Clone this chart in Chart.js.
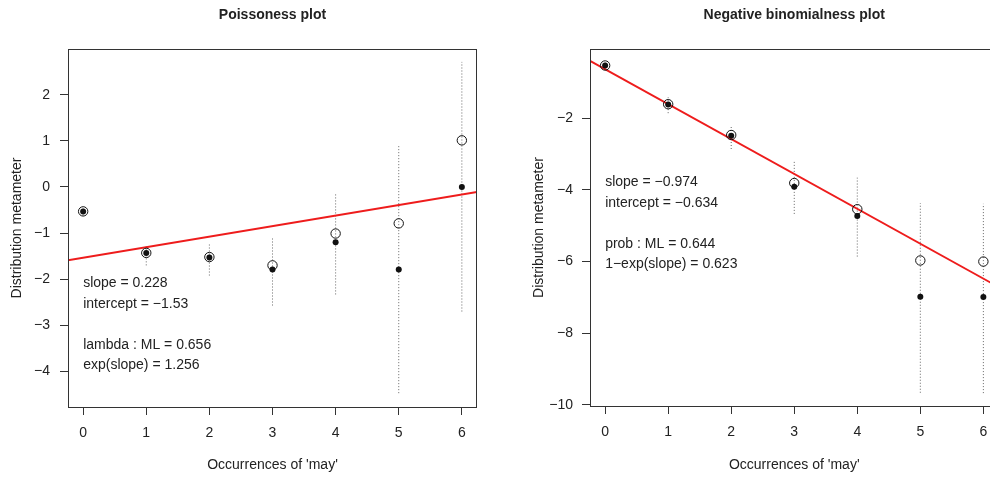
<!DOCTYPE html>
<html>
<head>
<meta charset="utf-8">
<title>Poissoness and negative binomialness plots</title>
<script src="https://cdn.jsdelivr.net/npm/chart.js@4.4.1/dist/chart.umd.min.js"></script>
<style>
    html, body { margin: 0; padding: 0; background: #fff; overflow: hidden; }
    body { width: 990px; height: 477px; position: relative; }
    canvas { position: absolute; top: 0; }
    #poisChart { left: 0; }
    #nbChart { left: 495px; }
</style>
</head>
<body>
<canvas id="poisChart" width="495" height="477"></canvas>
<canvas id="nbChart" width="520" height="477"></canvas>
<script>

// ============================
// DATA
// ============================

const counts = [0, 1, 2, 3, 4, 5, 6];
const xTicks = [0, 1, 2, 3, 4, 5, 6];

// Poissoness plot
const poisTicks = [-4, -3, -2, -1, 0, 1, 2];
const poisMetameter = [-0.53, -1.43, -1.52, -1.70, -1.01, -0.79, 1.01];
const poisCentered = [-0.53, -1.43, -1.53, -1.79, -1.20, -1.79, 0.00];
const poisLow = [-0.62, -1.70, -1.92, -2.57, -2.33, -4.47, -2.70];
const poisHigh = [-0.44, -1.26, -1.23, -1.08, -0.13, 0.91, 2.71];
const poisFitX = [-0.24, 6.24];
const poisFitY = [-1.59, -0.11];
const poisNotes = ['slope = 0.228', 'intercept = \u22121.53', '', 'lambda : ML = 0.656', 'exp(slope) = 1.256'];

// Negative binomialness plot
const nbTicks = [-10, -8, -6, -4, -2];
const nbMetameter = [-0.53, -1.61, -2.47, -3.81, -4.54, -5.97, -6.00];
const nbCentered = [-0.53, -1.62, -2.49, -3.91, -4.73, -6.98, -6.99];
const nbLow = [-0.62, -1.86, -2.86, -4.67, -5.86, -9.66, -9.67];
const nbHigh = [-0.44, -1.42, -2.21, -3.18, -3.66, -4.37, -4.39];
const nbFitX = [-0.24, 6.24];
const nbFitY = [-0.40, -6.71];
const nbNotes = ['slope = \u22120.974', 'intercept = \u22120.634', '', 'prob : ML = 0.644', '1\u2212exp(slope) = 0.623'];


const FONT = '"Liberation Sans", Arial, Helvetica, sans-serif';
const INK = '#222';
const FRAME = '#333';

const minus = v => String(v).replace('-', '\u2212');


// box, title and the text notes
const framePlugin = {
    id: 'frame',
    afterDatasetsDraw(chart, args, opts) {
        const { ctx, chartArea: a, scales: { x, y } } = chart;
        ctx.save();

        ctx.strokeStyle = FRAME;
        ctx.lineWidth = 1;
        ctx.strokeRect(a.left + 0.5, a.top + 0.5, a.right - a.left - 1, a.bottom - a.top);

        ctx.fillStyle = INK;
        ctx.textBaseline = 'middle';
        ctx.textAlign = 'center';
        ctx.font = 'bold 14px ' + FONT;
        ctx.fillText(opts.title, (a.left + a.right) / 2, opts.titleY);

        ctx.textAlign = 'left';
        ctx.font = '14px ' + FONT;
        const px = x.getPixelForValue(opts.noteX);
        let py = y.getPixelForValue(opts.noteY);
        opts.lines.forEach(line => {
            ctx.fillText(line, px, py);
            py += opts.lineGap;
        });

        ctx.restore();
    }
};


function makePlot(id, cfg) {

    const ctx = document.getElementById(id).getContext('2d');

    const bars = counts.flatMap((x, i) => [
        { x: x, y: cfg.low[i] },
        { x: x, y: cfg.high[i] },
        { x: x, y: null }
    ]);

    return new Chart(ctx, {

        type: 'scatter',

        data: {
            datasets: [
                {
                    data: counts.map((x, i) => ({ x: x, y: cfg.centered[i] })),
                    pointRadius: 3,
                    pointBackgroundColor: '#111',
                    pointBorderWidth: 0
                },
                {
                    data: counts.map((x, i) => ({ x: x, y: cfg.meta[i] })),
                    pointRadius: 4.7,
                    pointBackgroundColor: 'rgba(0,0,0,0)',
                    pointBorderColor: '#111',
                    pointBorderWidth: 1
                },
                {
                    data: cfg.fitX.map((x, i) => ({ x: x, y: cfg.fitY[i] })),
                    showLine: true,
                    borderColor: '#ee1c1c',
                    borderWidth: 2,
                    pointRadius: 0
                },
                {
                    data: bars,
                    showLine: true,
                    spanGaps: false,
                    borderColor: '#666',
                    borderWidth: 1,
                    borderDash: [1, 2],
                    pointRadius: 0
                }
            ]
        },

        options: {
            responsive: false,
            animation: false,
            devicePixelRatio: 1,
            events: [],
            layout: {
                padding: { top: cfg.top, right: cfg.right, left: 0, bottom: 0 }
            },
            scales: {
                x: {
                    type: 'linear',
                    min: -0.24,
                    max: 6.24,
                    afterBuildTicks: s => { s.ticks = xTicks.map(v => ({ value: v })); },
                    afterFit: s => { s.height = cfg.xHeight; },
                    border: { display: false },
                    grid: { drawOnChartArea: false, tickLength: 8, tickColor: FRAME },
                    ticks: {
                        color: INK,
                        padding: 10,
                        maxRotation: 0,
                        autoSkip: false,
                        font: { size: 14, family: FONT },
                        callback: v => minus(v)
                    },
                    title: {
                        display: true,
                        text: "Occurrences of 'may'",
                        color: INK,
                        font: { size: 14, family: FONT },
                        padding: { top: 0, bottom: 3 }
                    }
                },
                y: {
                    type: 'linear',
                    min: cfg.yMin,
                    max: cfg.yMax,
                    afterBuildTicks: s => { s.ticks = cfg.ticks.map(v => ({ value: v })); },
                    afterFit: s => { s.width = cfg.yWidth; },
                    border: { display: false },
                    grid: { drawOnChartArea: false, tickLength: 8, tickColor: FRAME },
                    ticks: {
                        color: INK,
                        padding: cfg.tickPad,
                        autoSkip: false,
                        font: { size: 14, family: FONT },
                        callback: v => minus(v)
                    },
                    title: {
                        display: true,
                        text: 'Distribution metameter',
                        color: INK,
                        font: { size: 14, family: FONT },
                        padding: { top: cfg.titlePad, bottom: 0 }
                    }
                }
            },
            plugins: {
                legend: { display: false },
                tooltip: { enabled: false },
                frame: {
                    title: cfg.title,
                    titleY: 15,
                    noteX: 0,
                    noteY: cfg.noteY,
                    lineGap: 20.5,
                    lines: cfg.notes
                }
            }
        },

        plugins: [framePlugin]
    });
}


// ============================
// CHART 1: POISSONESS
// ============================

makePlot('poisChart', {
    title: 'Poissoness plot',
    meta: poisMetameter,
    centered: poisCentered,
    low: poisLow,
    high: poisHigh,
    fitX: poisFitX,
    fitY: poisFitY,
    ticks: poisTicks,
    notes: poisNotes,
    noteY: -2.095,
    yMin: -4.77,
    yMax: 2.99,
    top: 49,
    right: 18,
    xHeight: 70,
    yWidth: 68,
    tickPad: 10,
    titlePad: 9
});


// ============================
// CHART 2: NEGATIVE BINOMIALNESS
// ============================

makePlot('nbChart', {
    title: 'Negative binomialness plot',
    meta: nbMetameter,
    centered: nbCentered,
    low: nbLow,
    high: nbHigh,
    fitX: nbFitX,
    fitY: nbFitY,
    ticks: nbTicks,
    notes: nbNotes,
    noteY: -3.796,
    yMin: -10.03,
    yMax: -0.07,
    top: 49,
    right: 16.5,
    xHeight: 71,
    yWidth: 95,
    tickPad: 9,
    titlePad: 35.6
});

</script>
</body>
</html>
